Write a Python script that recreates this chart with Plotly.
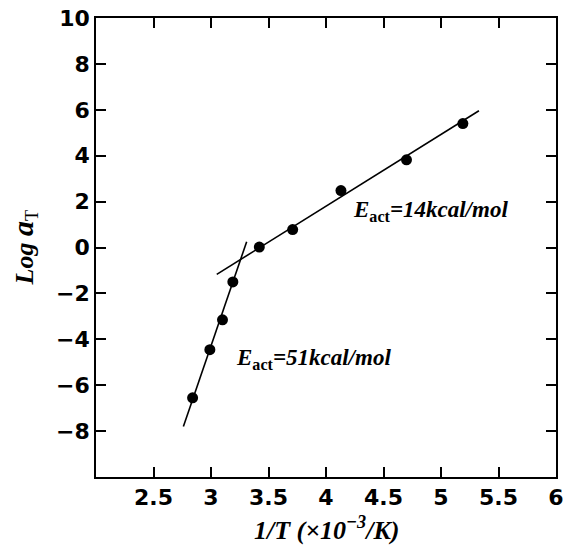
import plotly.graph_objects as go

# Data points: 1/T (x10^-3 /K) vs Log aT
inv_T = [2.84, 2.99, 3.10, 3.19, 3.42, 3.71, 4.13, 4.70, 5.19]
log_aT = [-6.55, -4.45, -3.15, -1.5, 0.02, 0.78, 2.48, 3.82, 5.4]

# Fitted Arrhenius lines (end points)
steep_x = [2.76, 3.31]
steep_y = [-7.8, 0.25]
shallow_x = [3.05, 5.33]
shallow_y = [-1.17, 5.96]

x_ticks = [2.5, 3, 3.5, 4, 4.5, 5, 5.5, 6]
y_ticks = [10, 8, 6, 4, 2, 0, -2, -4, -6, -8]

serif = "Liberation Serif, Times New Roman, serif"
sans = "DejaVu Sans, Arial, Helvetica, sans-serif"

fig = go.Figure()
fig.add_trace(go.Scatter(x=steep_x, y=steep_y, mode="lines",
                         line=dict(color="black", width=1.6), showlegend=False))
fig.add_trace(go.Scatter(x=shallow_x, y=shallow_y, mode="lines",
                         line=dict(color="black", width=1.6), showlegend=False))
fig.add_trace(go.Scatter(x=inv_T, y=log_aT, mode="markers",
                         marker=dict(color="black", size=11), showlegend=False))

fig.add_annotation(x=4.22, y=1.6, xref="x", yref="y", xanchor="left", yanchor="middle",
                   text="<b><i>E</i></b><b><sub>act</sub></b><b><i>=14kcal/mol</i></b>",
                   showarrow=False, font=dict(family=serif, size=23, color="black"))
fig.add_annotation(x=3.2, y=-4.85, xref="x", yref="y", xanchor="left", yanchor="middle",
                   text="<b><i>E</i></b><b><sub>act</sub></b><b><i>=51kcal/mol</i></b>",
                   showarrow=False, font=dict(family=serif, size=23, color="black"))

# Axis titles
fig.add_annotation(x=0.5, y=0, xref="paper", yref="paper", xanchor="center", yanchor="middle",
                   yshift=-51, showarrow=False,
                   text="<b><i>1/T (×10<sup>−3</sup>/K)</i></b>",
                   font=dict(family=serif, size=26, color="black"))
fig.add_annotation(x=0, y=0.5, xref="paper", yref="paper", xanchor="center", yanchor="middle",
                   xshift=-73, showarrow=False, textangle=-90,
                   text="<b><i>Log </i></b><b><i><span style='font-size:30px'>a</span></i></b><sub>T</sub>",
                   font=dict(family=serif, size=26, color="black"))

fig.update_layout(
    width=568, height=547,
    margin=dict(l=96, r=12, t=18, b=70),
    plot_bgcolor="white", paper_bgcolor="white",
    xaxis=dict(range=[2, 6], tickvals=x_ticks, ticktext=[str(v) for v in x_ticks],
               ticks="inside", ticklen=10, tickwidth=1.5, tickcolor="black",
               showline=True, linecolor="black", linewidth=1.5, mirror="ticks",
               showgrid=False, zeroline=False, automargin=False,
               tickfont=dict(family=sans, size=22, color="black", weight="bold")),
    yaxis=dict(range=[-10, 10], tickvals=y_ticks,
               ticktext=[("−" + str(-v)) if v < 0 else str(v) for v in y_ticks],
               ticks="inside", ticklen=10, tickwidth=1.5, tickcolor="black",
               showline=True, linecolor="black", linewidth=1.5, mirror="ticks",
               showgrid=False, zeroline=False, automargin=False,
               tickfont=dict(family=sans, size=22, color="black", weight="bold")),
)

fig.write_html("out.html")
